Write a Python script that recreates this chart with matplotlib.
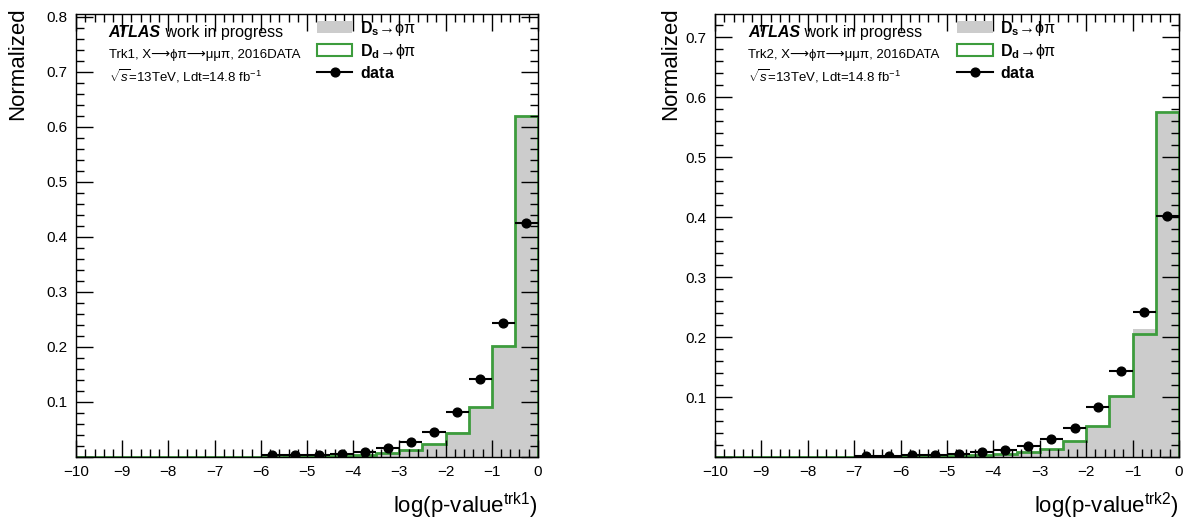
import matplotlib.pyplot as plt
import numpy as np
from matplotlib.patches import Patch
from matplotlib.lines import Line2D
from matplotlib.ticker import MultipleLocator, FuncFormatter

plt.rcParams["font.family"] = ["Liberation Sans", "DejaVu Sans"]
plt.rcParams["mathtext.fontset"] = "custom"
plt.rcParams["mathtext.rm"] = "Liberation Sans"
plt.rcParams["mathtext.it"] = "Liberation Sans:italic"
plt.rcParams["mathtext.bf"] = "Liberation Sans:bold"

# 20 bins of log(p-value) from -10 to 0
edges = np.linspace(-10, 0, 21)

# track 1
trk1_ds = [0] * 8 + [0.0005, 0.001, 0.0015, 0.0025, 0.004, 0.007,
                     0.012, 0.024, 0.045, 0.091, 0.201, 0.617]
trk1_dd = [0] * 8 + [0.0005, 0.001, 0.0015, 0.0025, 0.004, 0.007,
                     0.012, 0.023, 0.044, 0.091, 0.201, 0.619]
trk1_x = [-5.75, -5.25, -4.75, -4.25, -3.75, -3.25,
          -2.75, -2.25, -1.75, -1.25, -0.75, -0.25]
trk1_data = [0.003, 0.003, 0.004, 0.006, 0.009, 0.016,
             0.027, 0.046, 0.082, 0.141, 0.244, 0.426]

# track 2
trk2_ds = [0] * 6 + [0.0003, 0.0005, 0.001, 0.0015, 0.002, 0.003, 0.005,
                     0.008, 0.014, 0.027, 0.052, 0.100, 0.213, 0.573]
trk2_dd = [0] * 6 + [0.0003, 0.0005, 0.001, 0.0015, 0.002, 0.003, 0.005,
                     0.008, 0.014, 0.027, 0.052, 0.102, 0.205, 0.576]
trk2_x = [-6.75, -6.25, -5.75, -5.25, -4.75, -4.25, -3.75,
          -3.25, -2.75, -2.25, -1.75, -1.25, -0.75, -0.25]
trk2_data = [0.002, 0.0025, 0.003, 0.0033, 0.0055, 0.0078, 0.011,
             0.0183, 0.0294, 0.049, 0.084, 0.143, 0.242, 0.402]

GRAY = "#cccccc"
GREEN = "#3d9c3d"


def draw_panel(ax, ds, dd, xs, data, trk, ymax, ylab_pad):
    ax.stairs(ds, edges, fill=True, color=GRAY, lw=0)
    ax.stairs(dd, edges, color=GREEN, lw=2)
    ax.errorbar(xs, data, xerr=0.25, fmt="o", color="black",
                ms=6.3, lw=1.5, capsize=0)

    ax.set_xlim(-10, 0)
    ax.set_ylim(0, ymax)
    ax.xaxis.set_major_locator(MultipleLocator(1))
    ax.xaxis.set_minor_locator(MultipleLocator(0.2))
    ax.yaxis.set_major_locator(MultipleLocator(0.1))
    ax.yaxis.set_minor_locator(MultipleLocator(0.02))
    ax.yaxis.set_major_formatter(
        FuncFormatter(lambda v, p: "" if abs(v) < 1e-9 else f"{v:.1f}"))
    ax.tick_params(which="both", direction="in", top=True, right=True,
                   labelsize=11, width=1)
    ax.tick_params(which="major", length=12, pad=6)
    ax.tick_params(which="minor", length=6)
    for s in ax.spines.values():
        s.set_linewidth(1)

    ax.set_ylabel("Normalized", fontsize=16, loc="top", labelpad=ylab_pad)
    ax.yaxis.label.set_y(1.014)
    ax.set_xlabel(r"log(p-value$^{\mathregular{" + trk + r"}}$)",
                  fontsize=16, loc="right", labelpad=8)

    t = ax.text(0.071, 0.959, "ATLAS", transform=ax.transAxes,
                fontsize=11.5, fontweight="bold", fontstyle="italic",
                va="center")
    ax.annotate(" work in progress", xy=(1, 0), xycoords=t,
                fontsize=11.5, va="bottom")
    ax.text(0.071, 0.907,
            "Trk" + trk[-1] + ", X⟶ϕπ⟶μμπ, 2016DATA",
            transform=ax.transAxes, fontsize=9.5, va="center")
    ax.text(0.071, 0.860, r"$\sqrt{s}$=13TeV, Ldt=14.8 fb$^{-1}$",
            transform=ax.transAxes, fontsize=9.5, va="center")

    handles = [
        Patch(facecolor=GRAY, edgecolor="none"),
        Patch(facecolor="white", edgecolor=GREEN, lw=1.5),
        Line2D([], [], color="black", marker="o", ms=6.3, lw=1.5),
    ]
    labels = [r"$\mathbf{D_s}$→ϕπ", r"$\mathbf{D_d}$→ϕπ", r"$\mathbf{data}$"]
    ax.legend(handles, labels, loc="upper left", bbox_to_anchor=(0.512, 1.0),
              frameon=False, fontsize=11.5, handlelength=2.2,
              handleheight=0.8, handletextpad=0.45, labelspacing=0.25,
              borderpad=0.3, borderaxespad=0)


fig = plt.figure(figsize=(11.86, 5.22), dpi=100)
ax1 = fig.add_axes([0.0641, 0.1245, 0.3895, 0.8487])
ax2 = fig.add_axes([0.6029, 0.1245, 0.3912, 0.8487])

draw_panel(ax1, trk1_ds, trk1_dd, trk1_x, trk1_data, "trk1", 0.805, 13)
draw_panel(ax2, trk2_ds, trk2_dd, trk2_x, trk2_data, "trk2", 0.739, 3)

fig.savefig("out.png", dpi=100)
